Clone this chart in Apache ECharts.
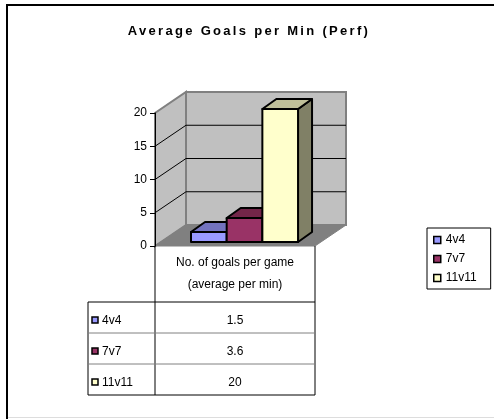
<!DOCTYPE html>
<html>
<head>
<meta charset="utf-8">
<script src="https://cdn.jsdelivr.net/npm/echarts@6/dist/echarts.min.js"></script>
<style>
html,body{margin:0;padding:0;background:#fff;}
#chart{width:494px;height:419px;}
</style>
</head>
<body>
<div id="chart"></div>
<script>
// ---- data ----
const categories = ['No. of goals per game\n(average per min)'];
const seriesNames = ['4v4', '7v7', '11v11'];
const values = [1.5, 3.6, 20];
const yMin = 0;
const yMax = 20;
const yInterval = 5;
const wallGridValues = [5, 10, 15];
const titleText = 'Average Goals per Min (Perf)';

// ---- styles ----
const faceColors = ['#9999FF', '#993366', '#FFFFCC'];
const topColors = ['#7373BF', '#732649', '#BFBF99'];
const sideColors = ['#5C5C99', '#5C1F3D', '#808066'];
const FONT = '"Liberation Sans", Arial, sans-serif';

// letter spacing for the title only (canvas feature)
(function () {
  const orig = CanvasRenderingContext2D.prototype.fillText;
  CanvasRenderingContext2D.prototype.fillText = function (t) {
    if (t === titleText && 'letterSpacing' in this) {
      const prev = this.letterSpacing;
      this.letterSpacing = '2.3px';
      const r = orig.apply(this, arguments);
      this.letterSpacing = prev;
      return r;
    }
    return orig.apply(this, arguments);
  };
})();

const DEPTH = [31, -21];
const BAR_SHIFT = [6, -4];
const BAR_DEPTH = [14, -10];
const CLUSTER_START = 0.1875;
const BAR_FRAC = 0.223;
const HEADER_H = 56;
const ROW_H = 31;
const TABLE_INDENT = 67;

function bandInfo(api) {
  const c = api.coord([0, 0]);
  const bw = api.size([1, 0])[0];
  return { L: c[0] - bw / 2, R: c[0] + bw / 2, y0: c[1], bw: bw, cx: c[0] };
}

function renderFrame(params, api) {
  const b = bandInfo(api);
  const yTop = api.coord([0, yMax])[1];
  const dx = DEPTH[0], dy = DEPTH[1];
  const ch = [];
  ch.push({ type: 'polygon', shape: { points: [[b.L, b.y0], [b.L, yTop], [b.L + dx, yTop + dy], [b.L + dx, b.y0 + dy]] },
    style: { fill: '#C0C0C0', stroke: '#808080', lineWidth: 2 } });
  ch.push({ type: 'polygon', shape: { points: [[b.L + dx, yTop + dy], [b.R + dx, yTop + dy], [b.R + dx, b.y0 + dy], [b.L + dx, b.y0 + dy]] },
    style: { fill: '#C0C0C0', stroke: '#808080', lineWidth: 2 } });
  ch.push({ type: 'polygon', shape: { points: [[b.L, b.y0], [b.R, b.y0], [b.R + dx, b.y0 + dy], [b.L + dx, b.y0 + dy]] },
    style: { fill: '#808080', stroke: '#808080', lineWidth: 1 } });
  wallGridValues.forEach(function (v) {
    const y = api.coord([0, v])[1];
    ch.push({ type: 'line', shape: { x1: b.L, y1: y, x2: b.L + dx, y2: y + dy }, style: { stroke: '#000', lineWidth: 1 } });
    ch.push({ type: 'line', shape: { x1: b.L + dx, y1: y + dy, x2: b.R + dx, y2: y + dy }, style: { stroke: '#000', lineWidth: 1 } });
  });
  // data table frame
  const tl = b.L - TABLE_INDENT;
  const hb = b.y0 + HEADER_H;
  const bottom = hb + ROW_H * seriesNames.length;
  const ls = { stroke: '#000', lineWidth: 1 };
  ch.push({ type: 'line', shape: { x1: b.L, y1: b.y0, x2: b.L, y2: bottom }, style: ls });
  ch.push({ type: 'line', shape: { x1: b.R, y1: b.y0, x2: b.R, y2: bottom }, style: ls });
  ch.push({ type: 'line', shape: { x1: tl, y1: hb, x2: b.R, y2: hb }, style: ls });
  ch.push({ type: 'line', shape: { x1: tl, y1: hb, x2: tl, y2: bottom }, style: ls });
  ch.push({ type: 'line', shape: { x1: tl, y1: bottom, x2: b.R, y2: bottom }, style: ls });
  return { type: 'group', children: ch };
}

function makeBarRender(i) {
  return function (params, api) {
    const b = bandInfo(api);
    const v = api.value(1);
    const w = b.bw * BAR_FRAC;
    const x0 = b.L + b.bw * CLUSTER_START + i * w + BAR_SHIFT[0];
    const x1 = x0 + w;
    const yb = b.y0 + BAR_SHIFT[1];
    const yt = api.coord([0, v])[1] + BAR_SHIFT[1];
    const ddx = BAR_DEPTH[0], ddy = BAR_DEPTH[1];
    const edge = { stroke: '#000', lineWidth: 2, lineJoin: 'round' };
    const ch = [];
    ch.push({ type: 'polygon', shape: { points: [[x1, yt], [x1 + ddx, yt + ddy], [x1 + ddx, yb + ddy], [x1, yb]] },
      style: Object.assign({ fill: sideColors[i] }, edge) });
    ch.push({ type: 'polygon', shape: { points: [[x0, yt], [x1, yt], [x1 + ddx, yt + ddy], [x0 + ddx, yt + ddy]] },
      style: Object.assign({ fill: topColors[i] }, edge) });
    ch.push({ type: 'rect', shape: { x: x0, y: yt, width: w, height: yb - yt },
      style: Object.assign({ fill: faceColors[i] }, edge) });
    // table row
    const tl = b.L - TABLE_INDENT;
    const rowTop = b.y0 + HEADER_H + i * ROW_H;
    const ty = rowTop + 19;
    if (i > 0) {
      ch.push({ type: 'line', shape: { x1: tl, y1: rowTop, x2: b.R, y2: rowTop }, style: { stroke: '#808080', lineWidth: 1 } });
    }
    ch.push({ type: 'rect', shape: { x: tl + 4, y: ty - 4, width: 6, height: 6 },
      style: { fill: faceColors[i], stroke: '#000', lineWidth: 1.5 } });
    ch.push({ type: 'text', style: { text: seriesNames[i], x: tl + 14, y: ty, verticalAlign: 'middle', align: 'left',
      fill: '#000', font: '12px ' + FONT } });
    ch.push({ type: 'text', style: { text: String(v), x: b.cx, y: ty, verticalAlign: 'middle', align: 'center',
      fill: '#000', font: '12px ' + FONT } });
    return { type: 'group', children: ch };
  };
}

const series = [{
  type: 'custom',
  name: 'frame',
  renderItem: renderFrame,
  data: [[0, 0]],
  silent: true,
  z: 1
}];
seriesNames.forEach(function (n, i) {
  series.push({
    type: 'custom',
    name: n,
    renderItem: makeBarRender(i),
    data: [[0, values[i]]],
    itemStyle: { color: faceColors[i], borderColor: '#000', borderWidth: 1.5 },
    z: 2
  });
});

const chart = echarts.init(document.getElementById('chart'), null, { renderer: 'canvas' });
chart.setOption({
  animation: false,
  backgroundColor: '#fff',
  textStyle: { fontFamily: FONT },
  grid: { left: 155, right: 179, top: 113, bottom: 173, containLabel: false },
  xAxis: {
    type: 'category',
    data: categories,
    axisLine: { show: false },
    axisTick: { show: false },
    splitLine: { show: false },
    axisLabel: { color: '#000', fontSize: 12, lineHeight: 22, margin: 6, fontFamily: FONT }
  },
  yAxis: {
    type: 'value',
    min: yMin,
    max: yMax,
    interval: yInterval,
    z: 5,
    axisLine: { show: true, lineStyle: { color: '#000', width: 1 } },
    axisTick: { show: true, length: 5, lineStyle: { color: '#000' } },
    splitLine: { show: false },
    axisLabel: { color: '#000', fontSize: 12, margin: 8, fontFamily: FONT }
  },
  legend: {
    data: seriesNames,
    orient: 'vertical',
    left: 427,
    top: 228,
    icon: 'rect',
    itemWidth: 7,
    itemHeight: 7,
    itemGap: 5,
    padding: [5, 14, 4, 6],
    borderColor: '#000',
    borderWidth: 1,
    selectedMode: false,
    itemStyle: { borderColor: '#000', borderWidth: 1.5 },
    textStyle: { color: '#000', fontSize: 12, lineHeight: 14, fontFamily: FONT }
  },
  graphic: [
    { type: 'text', x: 249, y: 31, z: 10,
      style: { text: titleText, align: 'center', verticalAlign: 'middle', fill: '#000',
        font: 'bold 13px ' + FONT } },
    { type: 'line', shape: { x1: 6, y1: 5, x2: 494, y2: 5 }, style: { stroke: '#000', lineWidth: 2 } },
    { type: 'line', shape: { x1: 7, y1: 4, x2: 7, y2: 419 }, style: { stroke: '#000', lineWidth: 2 } },
    { type: 'line', shape: { x1: 8, y1: 417.5, x2: 494, y2: 417.5 }, style: { stroke: '#DDDDDD', lineWidth: 1 } }
  ],
  series: series
});
</script>
</body>
</html>
